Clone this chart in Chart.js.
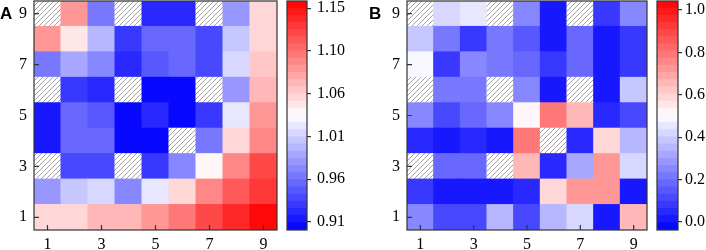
<!DOCTYPE html>
<html>
<head>
<meta charset="utf-8">
<script src="https://cdn.jsdelivr.net/npm/chart.js@4/dist/chart.umd.min.js"></script>
<style>
  body { margin: 0; width: 706px; height: 250px; overflow: hidden; background: #fff; position: relative; }
  canvas { position: absolute; top: 0; }
  .tag { position: absolute; font: bold 17px "Liberation Sans", Arial, sans-serif; line-height: 17px; color: #000; }
</style>
</head>
<body>
<canvas id="heatA" width="282" height="250" style="left:0"></canvas>
<canvas id="barA" width="90" height="250" style="left:280px"></canvas>
<canvas id="heatB" width="279" height="250" style="left:373px"></canvas>
<canvas id="barB" width="100" height="250" style="left:650px"></canvas>
<div class="tag" style="left:0;top:5px">A</div>
<div class="tag" style="left:369px;top:5px">B</div>
<script>
// grid categories
const cols = [1, 2, 3, 4, 5, 6, 7, 8, 9];
const rows = [1, 2, 3, 4, 5, 6, 7, 8, 9];
const axisTicks = [1, 3, 5, 7, 9];

// panel A values, row 1 (bottom) to row 9 (top); null = hatched cell
const gridA = [
    [1.054, 1.054, 1.064, 1.064, 1.084, 1.100, 1.125, 1.140, 1.157],
    [0.976, 1.001, 1.009, 0.974, 1.016, 1.054, 1.092, 1.117, 1.132],
    [null, 0.936, 0.936, null, 0.928, 0.969, 1.037, 1.092, 1.120],
    [0.916, 0.953, 0.953, 0.905, 0.905, null, 0.966, 1.054, 1.092],
    [0.916, 0.959, 0.946, 0.905, 0.923, 0.905, 0.933, 1.016, 1.082],
    [null, 0.931, 0.923, null, 0.905, 0.905, null, 0.976, 1.064],
    [0.966, 0.991, 0.974, 0.923, 0.948, 0.956, 0.936, 1.011, 1.062],
    [1.084, 1.047, 0.994, 0.928, 0.959, 0.959, 0.936, 1.001, 1.054],
    [null, 1.084, 0.963, null, 0.921, 0.921, null, 0.976, 1.052]
];

// panel B values
const gridB = [
    [0.257, 0.108, 0.108, 0.352, 0.108, 0.363, 0.405, 0.024, 0.648],
    [0.077, 0.002, 0.000, 0.002, 0.044, 0.595, 0.712, 0.712, 0.024],
    [null, 0.172, 0.172, null, 0.637, 0.035, 0.320, 0.722, 0.405],
    [0.035, 0.000, 0.044, 0.000, 0.797, null, 0.035, 0.595, 0.363],
    [0.246, 0.130, 0.172, 0.246, 0.522, 0.786, 0.637, 0.035, 0.097],
    [null, 0.214, 0.214, null, 0.246, 0.000, null, 0.002, 0.383],
    [0.478, 0.087, 0.257, 0.214, 0.172, 0.066, 0.172, 0.000, 0.087],
    [0.394, 0.214, 0.087, 0.214, 0.140, 0.000, 0.193, 0.002, 0.087],
    [null, 0.405, 0.468, null, 0.257, 0.024, null, 0.087, 0.257]
];

// colour bars
const cbarRangeA = [0.903, 1.160];
const cbarTicksA = [0.912, 0.96, 1.008, 1.056, 1.104, 1.152];
const cbarRangeB = [-0.038, 1.042];
const cbarTicksB = [0, 0.2, 0.4, 0.6, 0.8, 1.0];

const levels = 32;
const tickFont = { family: '"Liberation Serif", "DejaVu Serif", "Times New Roman", serif', size: 16 };

Chart.defaults.color = '#000';

// blue - white - red, in steps
function levelColor(i) {
    const u = (i + 0.5) / levels;
    let r, g, b;
    if (u < 0.5) {
        r = g = Math.round(255 * u / 0.5);
        b = 255;
    } else {
        r = 255;
        g = b = Math.round(255 * (1 - u) / 0.5);
    }
    return 'rgb(' + r + ',' + g + ',' + b + ')';
}

function colorFor(v, range) {
    const t = (v - range[0]) / (range[1] - range[0]);
    const i = Math.min(levels - 1, Math.max(0, Math.floor(t * levels)));
    return levelColor(i);
}

function makeHatch() {
    const c = document.createElement('canvas');
    c.width = 5;
    c.height = 5;
    const g = c.getContext('2d');
    g.fillStyle = '#fff';
    g.fillRect(0, 0, 5, 5);
    g.strokeStyle = '#8a8a8a';
    g.lineWidth = 0.8;
    g.beginPath();
    g.moveTo(0, 5); g.lineTo(5, 0);
    g.moveTo(-1, 1); g.lineTo(1, -1);
    g.moveTo(4, 6); g.lineTo(6, 4);
    g.stroke();
    return g.createPattern(c, 'repeat');
}
const hatch = makeHatch();

// box around the plot area
const frame = {
    id: 'frame',
    afterDatasetsDraw(chart) {
        const { ctx, chartArea: a } = chart;
        ctx.save();
        ctx.strokeStyle = '#333';
        ctx.lineWidth = 1.2;
        ctx.strokeRect(a.left, a.top, a.right - a.left, a.bottom - a.top);
        ctx.restore();
    }
};

// tick marks pointing into the plot
const innerTicks = {
    id: 'innerTicks',
    afterDraw(chart) {
        const { ctx, chartArea: a, scales } = chart;
        ctx.save();
        ctx.strokeStyle = '#333';
        ctx.lineWidth = 1.2;
        ctx.beginPath();
        axisTicks.forEach(v => {
            const px = scales.x.getPixelForValue(v);
            ctx.moveTo(px, a.bottom);
            ctx.lineTo(px, a.bottom - 5);
            const py = scales.y.getPixelForValue(v);
            ctx.moveTo(a.left, py);
            ctx.lineTo(a.left + 5, py);
        });
        ctx.stroke();
        ctx.restore();
    }
};

function heatDatasets(grid, range) {
    return rows.map((r, ri) => ({
        data: cols.map(c => ({ x: c, y: [r - 0.5, r + 0.5] })),
        backgroundColor: grid[ri].map(v => v === null ? hatch : colorFor(v, range)),
        borderWidth: 0,
        grouped: false,
        inflateAmount: 0.5,
        categoryPercentage: 1,
        barPercentage: 1
    }));
}

function heatmap(id, grid, range, rightPad) {
    new Chart(document.getElementById(id), {
        type: 'bar',
        data: { datasets: heatDatasets(grid, range) },
        options: {
            responsive: false,
            animation: false,
            layout: { padding: { top: 1, right: rightPad, left: 0, bottom: 0 } },
            plugins: { legend: { display: false }, tooltip: { enabled: false } },
            scales: {
                x: {
                    type: 'linear', min: 0.5, max: 9.5, offset: false,
                    grid: { display: false, drawTicks: false }, border: { display: false },
                    afterBuildTicks: s => { s.ticks = axisTicks.map(v => ({ value: v })); },
                    afterFit: s => { s.height = 20; s.paddingLeft = 0; s.paddingRight = 0; },
                    ticks: { padding: 5, maxRotation: 0, autoSkip: false, font: tickFont }
                },
                y: {
                    type: 'linear', min: 0.5, max: 9.5,
                    grid: { display: false, drawTicks: false }, border: { display: false },
                    afterBuildTicks: s => { s.ticks = axisTicks.map(v => ({ value: v })); },
                    afterFit: s => { s.width = 34; s.paddingTop = 0; s.paddingBottom = 0; },
                    ticks: { padding: 7, autoSkip: false, font: tickFont }
                }
            }
        },
        plugins: [frame, innerTicks]
    });
}

function colorbar(id, range, ticks, decimals, pad, leftPad, axisWidth) {
    const step = (range[1] - range[0]) / levels;
    const datasets = [];
    for (let i = 0; i < levels; i++) {
        datasets.push({
            data: [[range[0] + i * step, range[0] + (i + 1) * step]],
            backgroundColor: levelColor(i),
            borderWidth: 0,
            grouped: false,
            inflateAmount: 0.5,
            categoryPercentage: 1,
            barPercentage: 1
        });
    }
    new Chart(document.getElementById(id), {
        type: 'bar',
        data: { labels: [''], datasets: datasets },
        options: {
            responsive: false,
            animation: false,
            layout: { padding: { top: 1, right: 0, left: leftPad, bottom: 20 } },
            plugins: { legend: { display: false }, tooltip: { enabled: false } },
            scales: {
                x: { display: false },
                y: {
                    position: 'right', min: range[0], max: range[1],
                    grid: { drawOnChartArea: false, drawTicks: true, tickLength: 4, color: '#333', lineWidth: 1.2 },
                    border: { display: false },
                    afterBuildTicks: s => { s.ticks = ticks.map(v => ({ value: v })); },
                    afterFit: s => { s.width = axisWidth; s.paddingTop = 0; s.paddingBottom = 0; },
                    ticks: { padding: pad, autoSkip: false, font: tickFont, callback: v => Number(v).toFixed(decimals) }
                }
            }
        },
        plugins: [frame]
    });
}

heatmap('heatA', gridA, cbarRangeA, 5);
colorbar('barA', cbarRangeA, cbarTicksA, 2, 6, 7, 63);
heatmap('heatB', gridB, cbarRangeB, 5);
colorbar('barB', cbarRangeB, cbarTicksB, 1, 3, 7, 72);
</script>
</body>
</html>
